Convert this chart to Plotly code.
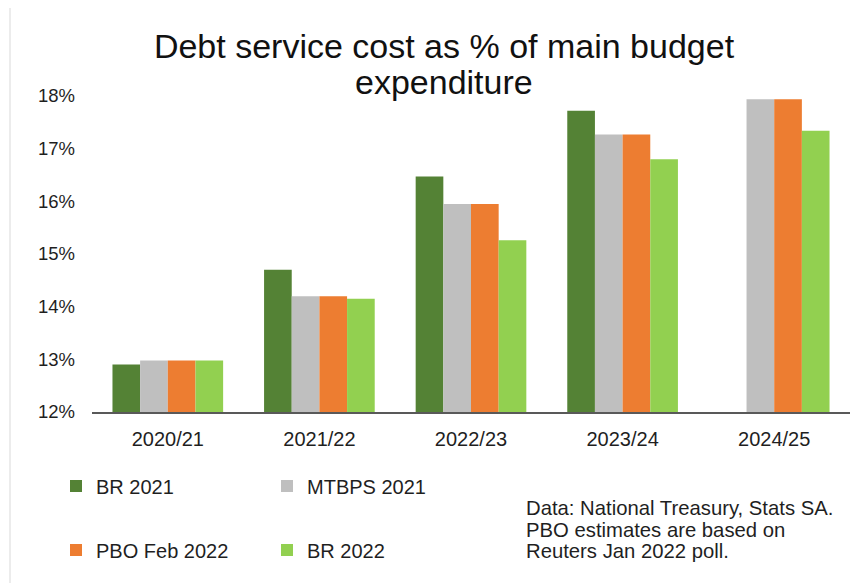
import plotly.graph_objects as go

categories = ["2020/21", "2021/22", "2022/23", "2023/24", "2024/25"]
br_2021 = [12.9, 14.7, 16.47, 17.72, None]
mtbps_2021 = [12.98, 14.2, 15.95, 17.27, 17.94]
pbo_feb_2022 = [12.98, 14.2, 15.95, 17.27, 17.94]
br_2022 = [12.98, 14.15, 15.26, 16.8, 17.34]

series_names = ["BR 2021", "MTBPS 2021", "PBO Feb 2022", "BR 2022"]
series_values = [br_2021, mtbps_2021, pbo_feb_2022, br_2022]
colors = ["#548235", "#BFBFBF", "#ED7D31", "#92D050"]
legend_ids = ["legend", "legend", "legend2", "legend2"]

y_ticks = [12, 13, 14, 15, 16, 17, 18]
y_tick_labels = ["12%", "13%", "14%", "15%", "16%", "17%", "18%"]

title_lines = ["Debt service cost as % of main budget", "expenditure"]
note_lines = ["Data: National Treasury, Stats SA.",
              "PBO estimates are based on",
              "Reuters Jan 2022 poll."]

# plot area in figure pixels
L, R, T, B = 84, 842, 88, 404
W, H = R - L, B - T

def px(x):
    return (x - L) / W

def py(y):
    return (B - y) / H

fig = go.Figure()
for name, vals, col, lg in zip(series_names, series_values, colors, legend_ids):
    fig.add_trace(go.Bar(
        x=categories, y=vals, name=name, marker_color=col,
        marker_line_width=0, legend=lg,
    ))

font_family = "Liberation Sans, Arial, sans-serif"
text_col = "#1f1f1f"
fig.update_layout(
    width=863, height=583,
    paper_bgcolor="white", plot_bgcolor="white",
    margin=dict(l=L, r=863 - R, t=T, b=583 - B),
    barmode="group", bargap=0.27, bargroupgap=0,
    font=dict(family=font_family, size=19, color=text_col),
    title=dict(
        text=title_lines[0],
        x=436 / 863, xanchor="center", xref="container",
        y=1 - 38 / 583, yanchor="middle", yref="container",
        font=dict(size=34, color="#111111", family=font_family),
    ),
    xaxis=dict(
        showline=True, linecolor="#595959", linewidth=1.5,
        ticks="", showgrid=False, ticklabelstandoff=8,
        tickfont=dict(size=20, color=text_col),
    ),
    yaxis=dict(
        range=[12, 18], tickvals=y_ticks, ticktext=y_tick_labels,
        showgrid=False, showline=False, zeroline=False, ticks="",
        ticklabelstandoff=16,
        tickfont=dict(size=18.5, color=text_col),
    ),
    legend=dict(
        orientation="h", x=px(48), xanchor="left",
        y=py(478), yanchor="middle",
        entrywidth=166, entrywidthmode="pixels",
        font=dict(size=20, color=text_col), bgcolor="rgba(0,0,0,0)",
    ),
    legend2=dict(
        orientation="h", x=px(48), xanchor="left",
        y=py(542), yanchor="middle",
        entrywidth=166, entrywidthmode="pixels",
        font=dict(size=20, color=text_col), bgcolor="rgba(0,0,0,0)",
    ),
    showlegend=True,
)

fig.add_annotation(
    text=title_lines[1], xref="paper", yref="paper",
    x=px(436), y=py(74), xanchor="center", yanchor="middle",
    showarrow=False, font=dict(size=34, color="#111111", family=font_family),
)

for i, line in enumerate(note_lines):
    fig.add_annotation(
        text=line, xref="paper", yref="paper",
        x=px(516), y=py(500 + i * 21.5),
        xanchor="left", yanchor="middle", align="left", showarrow=False,
        font=dict(size=20.3, color=text_col, family=font_family),
    )

fig.add_shape(
    type="line", xref="paper", yref="paper",
    x0=px(2), x1=px(2), y0=py(583), y1=py(0),
    line=dict(color="#D9D9D9", width=1),
)

fig.write_html("out.html")
